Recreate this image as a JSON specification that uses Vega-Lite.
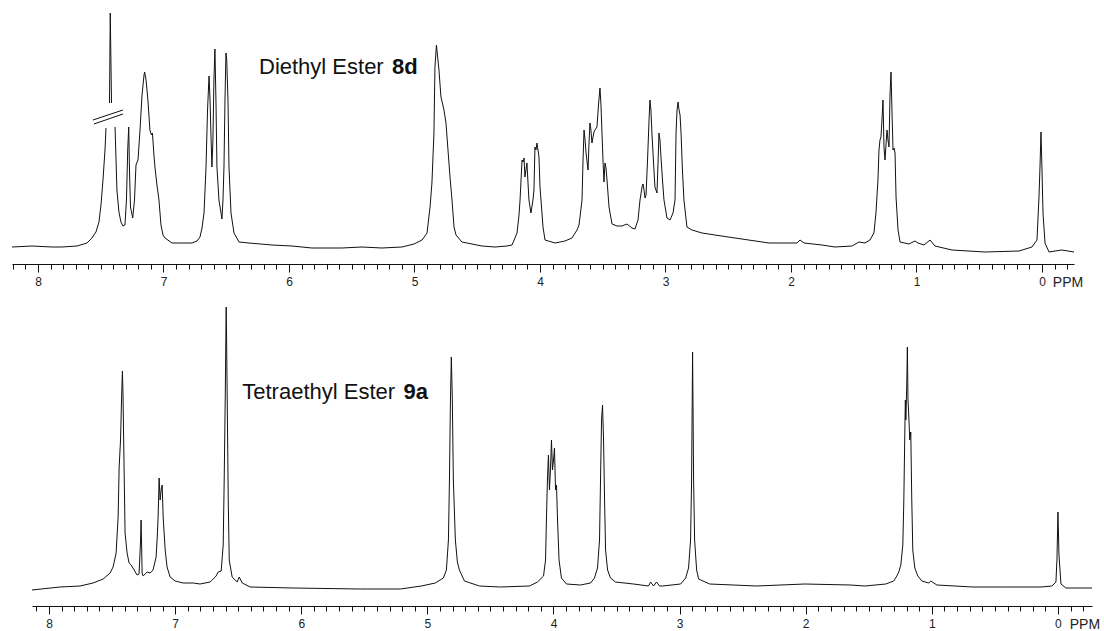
{
"$schema": "https://vega.github.io/schema/vega-lite/v6.json",
"padding": {"left": 10, "top": 0, "right": 0, "bottom": 0},
"background": "white",
"config": {"view": {"stroke": null}},
"datasets": {
"top": [
{"ppm":8.207,"intensity":-2,"seg":1},{"ppm":8.048,"intensity":-1,"seg":1},{"ppm":7.888,"intensity":-2,"seg":1},{"ppm":7.809,"intensity":-2,"seg":1},{"ppm":7.689,"intensity":-1,"seg":1},{"ppm":7.610,"intensity":2,"seg":1},{"ppm":7.570,"intensity":7,"seg":1},{"ppm":7.538,"intensity":13,"seg":1},{"ppm":7.514,"intensity":23,"seg":1},{"ppm":7.498,"intensity":40,"seg":1},{"ppm":7.482,"intensity":65,"seg":1},{"ppm":7.466,"intensity":95,"seg":1},{"ppm":7.458,"intensity":117,"seg":1},
{"ppm":7.430,"intensity":142,"seg":2},{"ppm":7.426,"intensity":205,"seg":2},{"ppm":7.424,"intensity":232,"seg":2},{"ppm":7.420,"intensity":195,"seg":2},{"ppm":7.414,"intensity":142,"seg":2},
{"ppm":7.386,"intensity":118,"seg":3},{"ppm":7.378,"intensity":85,"seg":3},{"ppm":7.371,"intensity":55,"seg":3},{"ppm":7.355,"intensity":33,"seg":3},{"ppm":7.339,"intensity":23,"seg":3},{"ppm":7.323,"intensity":19,"seg":3},{"ppm":7.307,"intensity":20,"seg":3},{"ppm":7.295,"intensity":45,"seg":3},{"ppm":7.285,"intensity":95,"seg":3},{"ppm":7.277,"intensity":118,"seg":3},{"ppm":7.271,"intensity":75,"seg":3},{"ppm":7.263,"intensity":38,"seg":3},{"ppm":7.245,"intensity":27,"seg":3},{"ppm":7.231,"intensity":45,"seg":3},{"ppm":7.219,"intensity":80,"seg":3},{"ppm":7.203,"intensity":85,"seg":3},{"ppm":7.187,"intensity":115,"seg":3},{"ppm":7.171,"intensity":150,"seg":3},{"ppm":7.155,"intensity":170,"seg":3},{"ppm":7.150,"intensity":173,"seg":3},{"ppm":7.139,"intensity":165,"seg":3},{"ppm":7.124,"intensity":145,"seg":3},{"ppm":7.108,"intensity":115,"seg":3},{"ppm":7.096,"intensity":110,"seg":3},{"ppm":7.088,"intensity":112,"seg":3},{"ppm":7.076,"intensity":90,"seg":3},{"ppm":7.068,"intensity":78,"seg":3},{"ppm":7.052,"intensity":60,"seg":3},{"ppm":7.036,"intensity":45,"seg":3},{"ppm":7.020,"intensity":20,"seg":3},{"ppm":7.004,"intensity":10,"seg":3},{"ppm":6.988,"intensity":7,"seg":3},{"ppm":6.932,"intensity":2,"seg":3},{"ppm":6.853,"intensity":2,"seg":3},{"ppm":6.773,"intensity":2,"seg":3},{"ppm":6.733,"intensity":4,"seg":3},{"ppm":6.709,"intensity":8,"seg":3},{"ppm":6.693,"intensity":17,"seg":3},{"ppm":6.677,"intensity":32,"seg":3},{"ppm":6.661,"intensity":78,"seg":3},{"ppm":6.649,"intensity":135,"seg":3},{"ppm":6.637,"intensity":169,"seg":3},{"ppm":6.629,"intensity":145,"seg":3},{"ppm":6.622,"intensity":112,"seg":3},{"ppm":6.614,"intensity":78,"seg":3},{"ppm":6.606,"intensity":105,"seg":3},{"ppm":6.598,"intensity":165,"seg":3},{"ppm":6.590,"intensity":196,"seg":3},{"ppm":6.582,"intensity":145,"seg":3},{"ppm":6.574,"intensity":78,"seg":3},{"ppm":6.558,"intensity":45,"seg":3},{"ppm":6.534,"intensity":26,"seg":3},{"ppm":6.526,"intensity":45,"seg":3},{"ppm":6.518,"intensity":78,"seg":3},{"ppm":6.510,"intensity":145,"seg":3},{"ppm":6.502,"intensity":192,"seg":3},{"ppm":6.496,"intensity":185,"seg":3},{"ppm":6.486,"intensity":145,"seg":3},{"ppm":6.478,"intensity":78,"seg":3},{"ppm":6.462,"intensity":32,"seg":3},{"ppm":6.438,"intensity":12,"seg":3},{"ppm":6.398,"intensity":3,"seg":3},{"ppm":6.319,"intensity":2,"seg":3},{"ppm":6.135,"intensity":0,"seg":3},{"ppm":5.976,"intensity":-1,"seg":3},{"ppm":5.817,"intensity":-3,"seg":3},{"ppm":5.578,"intensity":-3,"seg":3},{"ppm":5.418,"intensity":-2,"seg":3},{"ppm":5.259,"intensity":-3,"seg":3},{"ppm":5.100,"intensity":-2,"seg":3},{"ppm":5.004,"intensity":1,"seg":3},{"ppm":4.940,"intensity":5,"seg":3},{"ppm":4.900,"intensity":12,"seg":3},{"ppm":4.876,"intensity":38,"seg":3},{"ppm":4.861,"intensity":62,"seg":3},{"ppm":4.845,"intensity":112,"seg":3},{"ppm":4.837,"intensity":178,"seg":3},{"ppm":4.825,"intensity":200,"seg":3},{"ppm":4.817,"intensity":190,"seg":3},{"ppm":4.805,"intensity":175,"seg":3},{"ppm":4.789,"intensity":148,"seg":3},{"ppm":4.765,"intensity":135,"seg":3},{"ppm":4.749,"intensity":122,"seg":3},{"ppm":4.733,"intensity":95,"seg":3},{"ppm":4.717,"intensity":68,"seg":3},{"ppm":4.701,"intensity":45,"seg":3},{"ppm":4.685,"intensity":18,"seg":3},{"ppm":4.669,"intensity":10,"seg":3},{"ppm":4.622,"intensity":3,"seg":3},{"ppm":4.462,"intensity":-1,"seg":3},{"ppm":4.359,"intensity":-2,"seg":3},{"ppm":4.263,"intensity":-1,"seg":3},{"ppm":4.223,"intensity":0,"seg":3},{"ppm":4.183,"intensity":12,"seg":3},{"ppm":4.167,"intensity":30,"seg":3},{"ppm":4.159,"intensity":45,"seg":3},{"ppm":4.143,"intensity":85,"seg":3},{"ppm":4.135,"intensity":83,"seg":3},{"ppm":4.127,"intensity":87,"seg":3},{"ppm":4.120,"intensity":68,"seg":3},{"ppm":4.112,"intensity":75,"seg":3},{"ppm":4.104,"intensity":82,"seg":3},{"ppm":4.088,"intensity":45,"seg":3},{"ppm":4.072,"intensity":32,"seg":3},{"ppm":4.056,"intensity":45,"seg":3},{"ppm":4.048,"intensity":55,"seg":3},{"ppm":4.040,"intensity":98,"seg":3},{"ppm":4.032,"intensity":95,"seg":3},{"ppm":4.024,"intensity":102,"seg":3},{"ppm":4.016,"intensity":95,"seg":3},{"ppm":4.008,"intensity":88,"seg":3},{"ppm":4.000,"intensity":58,"seg":3},{"ppm":3.976,"intensity":18,"seg":3},{"ppm":3.960,"intensity":5,"seg":3},{"ppm":3.880,"intensity":2,"seg":3},{"ppm":3.801,"intensity":4,"seg":3},{"ppm":3.745,"intensity":7,"seg":3},{"ppm":3.705,"intensity":15,"seg":3},{"ppm":3.689,"intensity":20,"seg":3},{"ppm":3.665,"intensity":45,"seg":3},{"ppm":3.657,"intensity":85,"seg":3},{"ppm":3.649,"intensity":115,"seg":3},{"ppm":3.641,"intensity":105,"seg":3},{"ppm":3.633,"intensity":92,"seg":3},{"ppm":3.617,"intensity":75,"seg":3},{"ppm":3.610,"intensity":100,"seg":3},{"ppm":3.602,"intensity":122,"seg":3},{"ppm":3.594,"intensity":115,"seg":3},{"ppm":3.586,"intensity":102,"seg":3},{"ppm":3.570,"intensity":113,"seg":3},{"ppm":3.562,"intensity":115,"seg":3},{"ppm":3.546,"intensity":118,"seg":3},{"ppm":3.534,"intensity":140,"seg":3},{"ppm":3.522,"intensity":157,"seg":3},{"ppm":3.514,"intensity":140,"seg":3},{"ppm":3.506,"intensity":112,"seg":3},{"ppm":3.498,"intensity":85,"seg":3},{"ppm":3.490,"intensity":63,"seg":3},{"ppm":3.482,"intensity":82,"seg":3},{"ppm":3.474,"intensity":77,"seg":3},{"ppm":3.466,"intensity":65,"seg":3},{"ppm":3.450,"intensity":38,"seg":3},{"ppm":3.426,"intensity":21,"seg":3},{"ppm":3.386,"intensity":19,"seg":3},{"ppm":3.347,"intensity":19,"seg":3},{"ppm":3.307,"intensity":21,"seg":3},{"ppm":3.267,"intensity":17,"seg":3},{"ppm":3.243,"intensity":16,"seg":3},{"ppm":3.219,"intensity":25,"seg":3},{"ppm":3.203,"intensity":45,"seg":3},{"ppm":3.187,"intensity":58,"seg":3},{"ppm":3.179,"intensity":61,"seg":3},{"ppm":3.171,"intensity":55,"seg":3},{"ppm":3.163,"intensity":47,"seg":3},{"ppm":3.155,"intensity":50,"seg":3},{"ppm":3.143,"intensity":85,"seg":3},{"ppm":3.131,"intensity":125,"seg":3},{"ppm":3.124,"intensity":145,"seg":3},{"ppm":3.116,"intensity":135,"seg":3},{"ppm":3.108,"intensity":112,"seg":3},{"ppm":3.092,"intensity":75,"seg":3},{"ppm":3.084,"intensity":58,"seg":3},{"ppm":3.068,"intensity":52,"seg":3},{"ppm":3.060,"intensity":80,"seg":3},{"ppm":3.052,"intensity":112,"seg":3},{"ppm":3.044,"intensity":105,"seg":3},{"ppm":3.036,"intensity":88,"seg":3},{"ppm":3.024,"intensity":65,"seg":3},{"ppm":3.012,"intensity":45,"seg":3},{"ppm":2.988,"intensity":27,"seg":3},{"ppm":2.964,"intensity":25,"seg":3},{"ppm":2.940,"intensity":32,"seg":3},{"ppm":2.924,"intensity":45,"seg":3},{"ppm":2.916,"intensity":112,"seg":3},{"ppm":2.908,"intensity":135,"seg":3},{"ppm":2.900,"intensity":143,"seg":3},{"ppm":2.892,"intensity":135,"seg":3},{"ppm":2.884,"intensity":130,"seg":3},{"ppm":2.876,"intensity":112,"seg":3},{"ppm":2.865,"intensity":75,"seg":3},{"ppm":2.853,"intensity":45,"seg":3},{"ppm":2.829,"intensity":18,"seg":3},{"ppm":2.789,"intensity":15,"seg":3},{"ppm":2.709,"intensity":12,"seg":3},{"ppm":2.606,"intensity":10,"seg":3},{"ppm":2.446,"intensity":7,"seg":3},{"ppm":2.175,"intensity":2,"seg":3},{"ppm":2.032,"intensity":2,"seg":3},{"ppm":1.952,"intensity":2,"seg":3},{"ppm":1.928,"intensity":5,"seg":3},{"ppm":1.896,"intensity":2,"seg":3},{"ppm":1.753,"intensity":0,"seg":3},{"ppm":1.649,"intensity":-2,"seg":3},{"ppm":1.514,"intensity":-1,"seg":3},{"ppm":1.458,"intensity":3,"seg":3},{"ppm":1.410,"intensity":2,"seg":3},{"ppm":1.371,"intensity":5,"seg":3},{"ppm":1.339,"intensity":12,"seg":3},{"ppm":1.323,"intensity":32,"seg":3},{"ppm":1.307,"intensity":65,"seg":3},{"ppm":1.299,"intensity":95,"seg":3},{"ppm":1.291,"intensity":105,"seg":3},{"ppm":1.283,"intensity":108,"seg":3},{"ppm":1.275,"intensity":125,"seg":3},{"ppm":1.267,"intensity":145,"seg":3},{"ppm":1.259,"intensity":98,"seg":3},{"ppm":1.251,"intensity":85,"seg":3},{"ppm":1.243,"intensity":100,"seg":3},{"ppm":1.235,"intensity":115,"seg":3},{"ppm":1.227,"intensity":105,"seg":3},{"ppm":1.219,"intensity":98,"seg":3},{"ppm":1.211,"intensity":150,"seg":3},{"ppm":1.203,"intensity":173,"seg":3},{"ppm":1.195,"intensity":132,"seg":3},{"ppm":1.187,"intensity":95,"seg":3},{"ppm":1.179,"intensity":97,"seg":3},{"ppm":1.171,"intensity":92,"seg":3},{"ppm":1.163,"intensity":48,"seg":3},{"ppm":1.147,"intensity":15,"seg":3},{"ppm":1.131,"intensity":3,"seg":3},{"ppm":1.060,"intensity":1,"seg":3},{"ppm":1.012,"intensity":4,"seg":3},{"ppm":0.988,"intensity":2,"seg":3},{"ppm":0.940,"intensity":0,"seg":3},{"ppm":0.892,"intensity":5,"seg":3},{"ppm":0.853,"intensity":-1,"seg":3},{"ppm":0.717,"intensity":-5,"seg":3},{"ppm":0.454,"intensity":-7,"seg":3},{"ppm":0.183,"intensity":-6,"seg":3},{"ppm":0.080,"intensity":-2,"seg":3},{"ppm":0.040,"intensity":5,"seg":3},{"ppm":0.024,"intensity":48,"seg":3},{"ppm":0.016,"intensity":78,"seg":3},{"ppm":0.008,"intensity":113,"seg":3},{"ppm":0.000,"intensity":75,"seg":3},{"ppm":-0.008,"intensity":32,"seg":3},{"ppm":-0.024,"intensity":2,"seg":3},{"ppm":-0.056,"intensity":-7,"seg":3},{"ppm":-0.104,"intensity":-6,"seg":3},{"ppm":-0.159,"intensity":-5,"seg":3},{"ppm":-0.255,"intensity":-7,"seg":3}
],
"bottom": [
{"ppm":8.135,"intensity":-2},{"ppm":7.913,"intensity":1},{"ppm":7.754,"intensity":2},{"ppm":7.651,"intensity":5},{"ppm":7.571,"intensity":9},{"ppm":7.516,"intensity":15},{"ppm":7.492,"intensity":21},{"ppm":7.468,"intensity":35},{"ppm":7.452,"intensity":71},{"ppm":7.444,"intensity":121},{"ppm":7.433,"intensity":148},{"ppm":7.425,"intensity":188},{"ppm":7.418,"intensity":217},{"ppm":7.413,"intensity":191},{"ppm":7.405,"intensity":121},{"ppm":7.397,"intensity":55},{"ppm":7.381,"intensity":35},{"ppm":7.365,"intensity":25},{"ppm":7.349,"intensity":23},{"ppm":7.325,"intensity":18},{"ppm":7.302,"intensity":13},{"ppm":7.286,"intensity":14},{"ppm":7.274,"intensity":48},{"ppm":7.270,"intensity":68},{"ppm":7.266,"intensity":43},{"ppm":7.262,"intensity":15},{"ppm":7.254,"intensity":12},{"ppm":7.222,"intensity":16},{"ppm":7.198,"intensity":15},{"ppm":7.175,"intensity":18},{"ppm":7.151,"intensity":31},{"ppm":7.143,"intensity":48},{"ppm":7.135,"intensity":71},{"ppm":7.127,"intensity":110},{"ppm":7.119,"intensity":88},{"ppm":7.111,"intensity":98},{"ppm":7.103,"intensity":103},{"ppm":7.095,"intensity":71},{"ppm":7.079,"intensity":38},{"ppm":7.064,"intensity":21},{"ppm":7.040,"intensity":11},{"ppm":7.000,"intensity":7},{"ppm":6.937,"intensity":5},{"ppm":6.857,"intensity":5},{"ppm":6.802,"intensity":4},{"ppm":6.722,"intensity":6},{"ppm":6.675,"intensity":12},{"ppm":6.659,"intensity":16},{"ppm":6.635,"intensity":17},{"ppm":6.619,"intensity":43},{"ppm":6.611,"intensity":108},{"ppm":6.603,"intensity":188},{"ppm":6.598,"intensity":248},{"ppm":6.595,"intensity":281},{"ppm":6.592,"intensity":248},{"ppm":6.587,"intensity":188},{"ppm":6.579,"intensity":88},{"ppm":6.571,"intensity":28},{"ppm":6.548,"intensity":11},{"ppm":6.508,"intensity":6},{"ppm":6.492,"intensity":11},{"ppm":6.468,"intensity":5},{"ppm":6.405,"intensity":1},{"ppm":6.063,"intensity":0},{"ppm":5.532,"intensity":-1},{"ppm":5.214,"intensity":-1},{"ppm":5.048,"intensity":2},{"ppm":4.937,"intensity":5},{"ppm":4.873,"intensity":10},{"ppm":4.849,"intensity":18},{"ppm":4.833,"intensity":48},{"ppm":4.825,"intensity":108},{"ppm":4.817,"intensity":188},{"ppm":4.810,"intensity":231},{"ppm":4.802,"intensity":188},{"ppm":4.794,"intensity":108},{"ppm":4.778,"intensity":48},{"ppm":4.762,"intensity":26},{"ppm":4.746,"intensity":18},{"ppm":4.706,"intensity":7},{"ppm":4.587,"intensity":2},{"ppm":4.421,"intensity":1},{"ppm":4.190,"intensity":2},{"ppm":4.127,"intensity":6},{"ppm":4.079,"intensity":12},{"ppm":4.063,"intensity":28},{"ppm":4.056,"intensity":68},{"ppm":4.048,"intensity":108},{"ppm":4.040,"intensity":133},{"ppm":4.032,"intensity":98},{"ppm":4.024,"intensity":118},{"ppm":4.016,"intensity":148},{"ppm":4.008,"intensity":118},{"ppm":4.000,"intensity":128},{"ppm":3.992,"intensity":140},{"ppm":3.984,"intensity":98},{"ppm":3.976,"intensity":103},{"ppm":3.968,"intensity":68},{"ppm":3.956,"intensity":28},{"ppm":3.937,"intensity":10},{"ppm":3.897,"intensity":4},{"ppm":3.786,"intensity":3},{"ppm":3.706,"intensity":5},{"ppm":3.675,"intensity":10},{"ppm":3.651,"intensity":20},{"ppm":3.635,"intensity":48},{"ppm":3.627,"intensity":108},{"ppm":3.619,"intensity":168},{"ppm":3.611,"intensity":183},{"ppm":3.603,"intensity":148},{"ppm":3.595,"intensity":88},{"ppm":3.587,"intensity":38},{"ppm":3.571,"intensity":18},{"ppm":3.548,"intensity":10},{"ppm":3.508,"intensity":6},{"ppm":3.365,"intensity":4},{"ppm":3.246,"intensity":2},{"ppm":3.230,"intensity":6},{"ppm":3.206,"intensity":2},{"ppm":3.183,"intensity":6},{"ppm":3.159,"intensity":2},{"ppm":3.135,"intensity":2},{"ppm":2.992,"intensity":4},{"ppm":2.952,"intensity":10},{"ppm":2.929,"intensity":20},{"ppm":2.913,"intensity":48},{"ppm":2.905,"intensity":108},{"ppm":2.900,"intensity":188},{"ppm":2.897,"intensity":236},{"ppm":2.894,"intensity":188},{"ppm":2.889,"intensity":108},{"ppm":2.881,"intensity":48},{"ppm":2.865,"intensity":18},{"ppm":2.849,"intensity":9},{"ppm":2.762,"intensity":4},{"ppm":2.389,"intensity":2},{"ppm":2.008,"intensity":4},{"ppm":1.643,"intensity":3},{"ppm":1.532,"intensity":2},{"ppm":1.365,"intensity":4},{"ppm":1.302,"intensity":7},{"ppm":1.278,"intensity":12},{"ppm":1.262,"intensity":16},{"ppm":1.246,"intensity":23},{"ppm":1.230,"intensity":43},{"ppm":1.222,"intensity":88},{"ppm":1.214,"intensity":158},{"ppm":1.210,"intensity":188},{"ppm":1.206,"intensity":168},{"ppm":1.198,"intensity":208},{"ppm":1.194,"intensity":241},{"ppm":1.189,"intensity":188},{"ppm":1.183,"intensity":173},{"ppm":1.175,"intensity":148},{"ppm":1.167,"intensity":156},{"ppm":1.159,"intensity":88},{"ppm":1.151,"intensity":38},{"ppm":1.135,"intensity":20},{"ppm":1.111,"intensity":12},{"ppm":1.079,"intensity":7},{"ppm":1.024,"intensity":5},{"ppm":1.008,"intensity":7},{"ppm":0.960,"intensity":3},{"ppm":0.675,"intensity":1},{"ppm":0.452,"intensity":1},{"ppm":0.135,"intensity":1},{"ppm":0.048,"intensity":2},{"ppm":0.016,"intensity":6},{"ppm":0.008,"intensity":28},{"ppm":0.000,"intensity":76},{"ppm":-0.008,"intensity":33},{"ppm":-0.024,"intensity":4},{"ppm":-0.063,"intensity":0},{"ppm":-0.183,"intensity":0},{"ppm":-0.270,"intensity":0}
],
"brk": [
{"x1":7.562,"x2":7.323,"y1":125,"y2":135},
{"x1":7.554,"x2":7.323,"y1":121,"y2":131}
]
},
"spacing": 10,
"vconcat": [
{
"width": 1062, "height": 264,
"resolve": {"axis": {"x": "independent"}},
"layer": [
{"data": {"name": "top"},
 "mark": {"type": "line", "color": "#111", "strokeWidth": 1},
 "encoding": {
  "x": {"field": "ppm", "type": "quantitative",
   "scale": {"domain": [-0.255, 8.207], "reverse": true, "nice": false, "zero": false},
   "axis": {"orient": "bottom", "title": null, "grid": false,
    "values": [8,7,6,5,4,3,2,1,0],
    "format": "d", "tickSize": 8,
    "tickColor": "#111", "tickWidth": 1, "domainColor": "#111", "domainWidth": 1,
    "labelFont": "Liberation Sans", "labelFontSize": 12, "labelColor": "#222", "labelPadding": 4,
    "labelOverlap": false, "labelFlush": false}},
  "y": {"field": "intensity", "type": "quantitative", "scale": {"domain": [-19, 245], "nice": false, "zero": false}, "axis": null},
  "detail": {"field": "seg"}
 }},
{"data": {"name": "brk"},
 "mark": {"type": "rule", "color": "#111", "strokeWidth": 1},
 "encoding": {
  "x": {"field": "x1", "type": "quantitative", "axis": null},
  "x2": {"field": "x2"},
  "y": {"field": "y1", "type": "quantitative", "axis": null},
  "y2": {"field": "y2"}
 }},
{"data": {"values": [{}]},
 "mark": {"type": "text", "align": "left", "baseline": "middle", "font": "Liberation Sans", "fontSize": 22, "color": "#111"},
 "encoding": {"x": {"datum": 6.239, "axis": null}, "y": {"datum": 178, "axis": null}, "text": {"value": "Diethyl Ester"}}},
{"data": {"values": [{}]},
 "mark": {"type": "text", "align": "left", "baseline": "middle", "font": "Liberation Sans", "fontSize": 22, "fontWeight": "bold", "color": "#111"},
 "encoding": {"x": {"datum": 5.179, "axis": null}, "y": {"datum": 178, "axis": null}, "text": {"value": "8d"}}},
{"data": {"values": [{}]},
 "mark": {"type": "text", "align": "center", "baseline": "middle", "font": "Liberation Sans", "fontSize": 14, "color": "#222"},
 "encoding": {"x": {"datum": -0.207, "axis": {"orient": "bottom", "title": null, "grid": false, "domain": false, "labels": false,
    "values": [8.2,8.1,7.9,7.8,7.7,7.6,7.5,7.4,7.3,7.2,7.1,6.9,6.8,6.7,6.6,6.5,6.4,6.3,6.2,6.1,5.9,5.8,5.7,5.6,5.5,5.4,5.3,5.2,5.1,4.9,4.8,4.7,4.6,4.5,4.4,4.3,4.2,4.1,3.9,3.8,3.7,3.6,3.5,3.4,3.3,3.2,3.1,2.9,2.8,2.7,2.6,2.5,2.4,2.3,2.2,2.1,1.9,1.8,1.7,1.6,1.5,1.4,1.3,1.2,1.1,0.9,0.8,0.7,0.6,0.5,0.4,0.3,0.2,0.1,-0.1,-0.2],
    "tickSize": 5, "tickColor": "#111", "tickWidth": 1}},
  "y": {"datum": -38, "axis": null}, "text": {"value": "PPM"}}}
]
},
{
"spacing": 0,
"hconcat": [
{"width": 18, "height": 10, "data": {"values": []}, "mark": {"type": "rule"}, "encoding": {}},
{
"width": 1060, "height": 306,
"resolve": {"axis": {"x": "independent"}},
"layer": [
{"data": {"name": "bottom"},
 "mark": {"type": "line", "color": "#111", "strokeWidth": 1},
 "encoding": {
  "x": {"field": "ppm", "type": "quantitative",
   "scale": {"domain": [-0.27, 8.135], "reverse": true, "nice": false, "zero": false},
   "axis": {"orient": "bottom", "title": null, "grid": false,
    "values": [8,7,6,5,4,3,2,1,0],
    "format": "d", "tickSize": 8,
    "tickColor": "#111", "tickWidth": 1, "domainColor": "#111", "domainWidth": 1,
    "labelFont": "Liberation Sans", "labelFontSize": 12, "labelColor": "#222", "labelPadding": 4,
    "labelOverlap": false, "labelFlush": false}},
  "y": {"field": "intensity", "type": "quantitative", "scale": {"domain": [-18, 288], "nice": false, "zero": false}, "axis": null}
 }},
{"data": {"values": [{}]},
 "mark": {"type": "text", "align": "left", "baseline": "middle", "font": "Liberation Sans", "fontSize": 22, "color": "#111"},
 "encoding": {"x": {"datum": 6.468, "axis": null}, "y": {"datum": 196, "axis": null}, "text": {"value": "Tetraethyl Ester"}}},
{"data": {"values": [{}]},
 "mark": {"type": "text", "align": "left", "baseline": "middle", "font": "Liberation Sans", "fontSize": 22, "fontWeight": "bold", "color": "#111"},
 "encoding": {"x": {"datum": 5.190, "axis": null}, "y": {"datum": 196, "axis": null}, "text": {"value": "9a"}}},
{"data": {"values": [{}]},
 "mark": {"type": "text", "align": "center", "baseline": "middle", "font": "Liberation Sans", "fontSize": 14, "color": "#222"},
 "encoding": {"x": {"datum": -0.214, "axis": {"orient": "bottom", "title": null, "grid": false, "domain": false, "labels": false,
    "values": [8.1,7.9,7.8,7.7,7.6,7.5,7.4,7.3,7.2,7.1,6.9,6.8,6.7,6.6,6.5,6.4,6.3,6.2,6.1,5.9,5.8,5.7,5.6,5.5,5.4,5.3,5.2,5.1,4.9,4.8,4.7,4.6,4.5,4.4,4.3,4.2,4.1,3.9,3.8,3.7,3.6,3.5,3.4,3.3,3.2,3.1,2.9,2.8,2.7,2.6,2.5,2.4,2.3,2.2,2.1,1.9,1.8,1.7,1.6,1.5,1.4,1.3,1.2,1.1,0.9,0.8,0.7,0.6,0.5,0.4,0.3,0.2,0.1,-0.1,-0.2],
    "tickSize": 5, "tickColor": "#111", "tickWidth": 1}},
  "y": {"datum": -37, "axis": null}, "text": {"value": "PPM"}}}
]
}
]
}
]
}
